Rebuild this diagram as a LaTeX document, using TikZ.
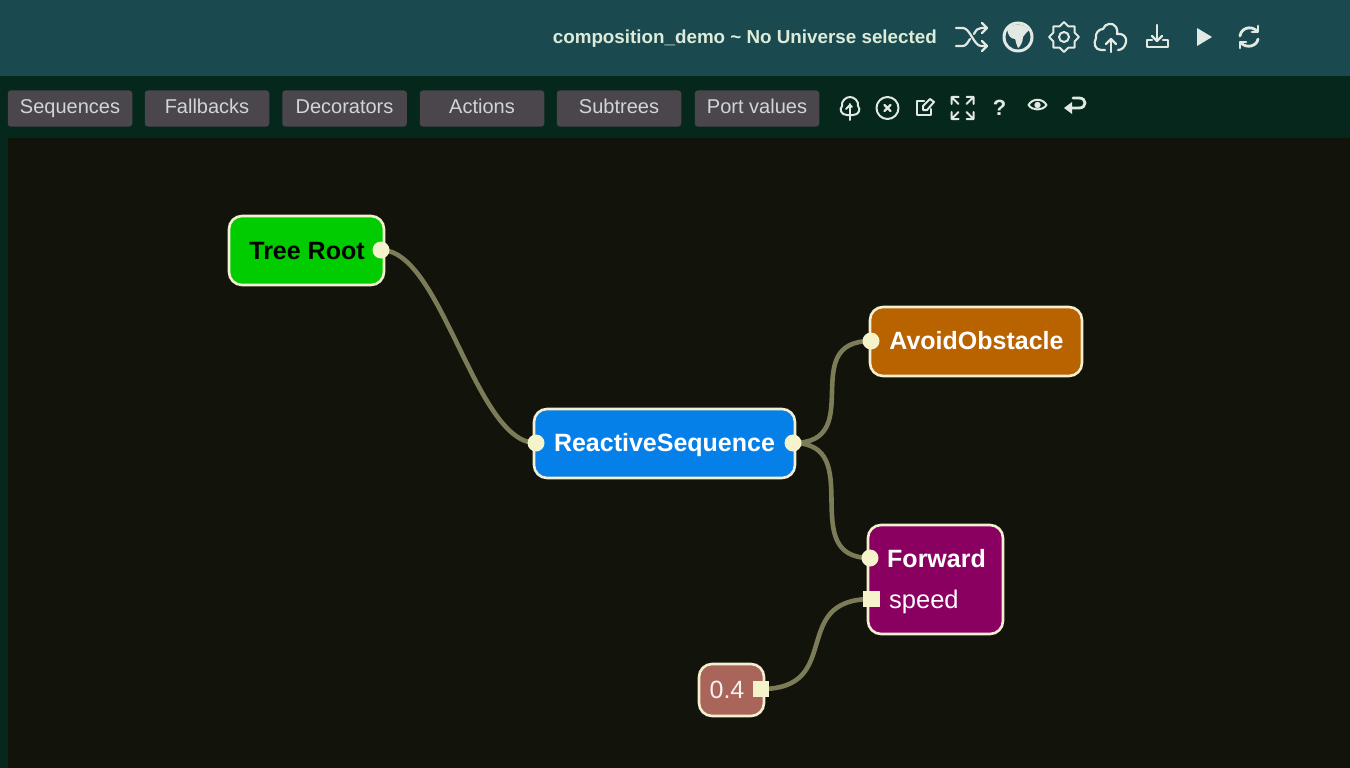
\documentclass[tikz,border=0pt]{standalone}
\usepackage{fontspec}
\setmainfont{Liberation Sans}
\definecolor{headbg}{HTML}{1A4A50}
\definecolor{barbg}{HTML}{06281C}
\definecolor{canvasbg}{HTML}{12130A}
\definecolor{btnbg}{HTML}{4A464C}
\definecolor{btntx}{HTML}{D2D4DC}
\definecolor{headtx}{HTML}{DDEBD8}
\definecolor{icn}{HTML}{E2E8E2}
\definecolor{edgec}{HTML}{7C7D58}
\definecolor{cream}{HTML}{F5F3CC}
\definecolor{edgeline}{HTML}{F3EFD0}
\definecolor{rootc}{HTML}{00CC00}
\definecolor{seqc}{HTML}{0580E8}
\definecolor{avoidc}{HTML}{B86200}
\definecolor{fwdc}{HTML}{8A0060}
\definecolor{valc}{HTML}{A9655A}
\pgfdeclarelayer{front}
\pgfsetlayers{main,front}
\tikzset{
 box/.style={draw=edgeline,line width=2.6pt,rounded corners=13pt,minimum height=#1,inner sep=0pt},
 btn/.style={fill=btnbg,rounded corners=3pt,minimum width=124.5pt,minimum height=36pt,inner sep=0pt,text=btntx,text height=14.5pt,text depth=4pt,font=\fontsize{20}{20}\selectfont},
 btxt/.style={inner sep=0pt,anchor=base,font=\bfseries\fontsize{25}{25}\selectfont},
 circport/.style={circle,fill=cream,minimum size=17pt,inner sep=0pt},
 sqport/.style={rectangle,fill=cream,minimum size=16.5pt,inner sep=0pt},
 conn/.style={draw=edgec,line width=4.6pt},
 icon/.style={draw=icn,line width=2.2pt,line cap=round,line join=round},
 iconthin/.style={draw=icn,line width=2pt,line cap=round,line join=round},
}
\begin{document}
\begin{tikzpicture}[x=1pt,y=-1pt]
\useasboundingbox (0,0) rectangle (1350,768);
\fill[barbg] (0,0) rectangle (1350,768);
\fill[headbg] (0,0) rectangle (1350,76);
\fill[canvasbg] (8,138) rectangle (1350,768);
\node[anchor=base east,inner sep=0pt,text=headtx,font=\bfseries\fontsize{18.8}{19}\selectfont] (title) at (937,44) {composition\_demo \textasciitilde{} No Universe selected};
% toolbar
\node[btn] (b1) at (70,108.5) {Sequences};
\node[btn] (b2) at (207,108.5) {Fallbacks};
\node[btn] (b3) at (344.5,108.5) {Decorators};
\node[btn] (b4) at (482,108.5) {Actions};
\node[btn] (b5) at (619,108.5) {Subtrees};
\node[btn] (b6) at (757,108.5) {Port values};
% nodes
\node[box=69pt,fill=rootc,minimum width=155pt] (root) at (306.5,250.5) {};
\node[box=69pt,fill=seqc,minimum width=261pt] (seq) at (664.5,443.5) {};
\node[box=69pt,fill=avoidc,minimum width=212pt] (avoid) at (976,341.5) {};
\node[box=109pt,fill=fwdc,minimum width=135pt] (fwd) at (935.5,579.5) {};
\node[box=52pt,fill=valc,minimum width=65pt] (val) at (731.5,690) {};
\node[btxt,text=black] (troot) at (307,259) {Tree Root};
\node[btxt,text=white] (tseq) at (664.5,451) {ReactiveSequence};
\node[btxt,text=white] (tavoid) at (976.5,349) {AvoidObstacle};
\node[btxt,text=white,anchor=base west] (tfwd) at (887,567) {Forward};
\node[inner sep=0pt,anchor=base west,text=white,font=\fontsize{25.5}{25}\selectfont] (tspeed) at (889,608) {speed};
\node[inner sep=0pt,anchor=base,text=white!90!valc,font=\fontsize{25}{25}\selectfont] (tval) at (727,698) {0.4};
% ports
\begin{pgfonlayer}{front}
\node[circport] (p1) at (381,250) {};
\node[circport] (p2) at (536,443) {};
\node[circport] (p3) at (793,443) {};
\node[circport] (p4) at (871,341) {};
\node[circport] (p5) at (870,558) {};
\node[sqport] (p6) at (871.5,599) {};
\node[sqport] (p7) at (761,689) {};
\end{pgfonlayer}
% connectors
\draw[conn] (p1.center) .. controls (442,250) and (475,443) .. (p2.center);
\draw[conn] (p3.center) .. controls (868,443) and (796,341) .. (p4.center);
\draw[conn] (p3.center) .. controls (868,443) and (795,558) .. (p5.center);
\draw[conn] (p7.center) .. controls (845,689) and (788,599) .. (p6.center);
% header icons
\begin{scope}[shift={(972,37)}]
\draw[icon] (-16,-9) -- (-9,-9) .. controls (-2,-9) and (2,9) .. (9,9) -- (15,9);
\draw[icon] (-16,9) -- (-9,9) .. controls (-6,9) and (-4,5) .. (-2,2);
\draw[icon] (2,-3) .. controls (4,-7) and (6,-9) .. (9,-9) -- (15,-9);
\draw[icon] (10,-14) -- (15,-9) -- (10,-4);
\draw[icon] (10,4) -- (15,9) -- (10,14);
\end{scope}
\begin{scope}[shift={(1018,37)}]
\fill[icn] (0,0) circle (15.5pt);
\fill[headbg] (0,0) circle (12.5pt);
\fill[icn] (-11,-8) .. controls (-5,-14) and (6,-14) .. (11,-7) .. controls (9,-4) and (6,-3) .. (5,0) .. controls (5,5) and (2,10) .. (0,11) .. controls (-2,8) and (-2,4) .. (-3,2) .. controls (-7,2) and (-10,-1) .. (-11,-8) -- cycle;
\end{scope}
\begin{scope}[shift={(1064,37)}]
\draw[iconthin] (0,0) circle (5pt);
\draw[iconthin] (0,-15) \foreach \a in {22.5,45,...,360}{ -- ({sin(\a)*(mod(\a,45)==0 ? 15 : 11.5)},{-cos(\a)*(mod(\a,45)==0 ? 15 : 11.5)})} -- cycle;
\end{scope}
\begin{scope}[shift={(1110,37)}]
\draw[icon] (-5,13) -- (-9,13) .. controls (-15,13) and (-17,6) .. (-14,1) .. controls (-15,-4) and (-11,-8) .. (-7,-8) .. controls (-5,-14) and (3,-15) .. (6,-10) .. controls (8,-6) and (7,-4) .. (7,-3) .. controls (13,-4) and (17,0) .. (16,5) .. controls (15,10) and (12,13) .. (8,13);
\draw[icon] (1,15) -- (1,2);
\draw[icon] (-4,7) -- (1,2) -- (6,7);
\end{scope}
\begin{scope}[shift={(1157,37)}]
\draw[icon] (-5,3) -- (-10,3) -- (-10,10) -- (11,10) -- (11,3) -- (6,3);
\draw[icon] (0,-12) -- (0,4);
\draw[icon] (-5,-1) -- (0,4) -- (5,-1);
\end{scope}
\fill[icn] (1197,28) -- (1212,37) -- (1197,46) -- cycle;
\begin{scope}[shift={(1249,37)}]
\draw[icon,line width=2.8pt] (-9,-1) .. controls (-8,-9) and (2,-12) .. (8,-6);
\draw[icon,line width=2.8pt] (9,-11) -- (9,-5) -- (3,-5);
\draw[icon,line width=2.8pt] (9,2) .. controls (8,9) and (-2,12) .. (-8,6);
\draw[icon,line width=2.8pt] (-9,11) -- (-9,5) -- (-3,5);
\end{scope}
% toolbar icons
\begin{scope}[shift={(850,107)}]
\draw[iconthin] (-3,8) .. controls (-9,8) and (-11,2) .. (-8,-1) .. controls (-9,-6) and (-4,-10) .. (0,-10) .. controls (4,-10) and (9,-6) .. (8,-1) .. controls (11,2) and (9,8) .. (3,8) -- cycle;
\draw[iconthin] (0,13) -- (0,-3);
\draw[iconthin] (-4,2) -- (0,-2) -- (2,0);
\end{scope}
\begin{scope}[shift={(887.5,108)}]
\draw[iconthin] (0,0) circle (11pt);
\draw[iconthin,line width=2.4pt] (-3,-3) -- (3,3) (-3,3) -- (3,-3);
\end{scope}
\begin{scope}[shift={(924,107)}]
\draw[iconthin] (0,-6) -- (-7,-6) -- (-7,8) -- (7,8) -- (7,2);
\draw[iconthin] (-1,3) -- (-1,-1) -- (6,-8) -- (10,-5) -- (3,3) -- cycle;
\end{scope}
\begin{scope}[shift={(962.5,108)}]
\draw[iconthin] (-11,-4) -- (-11,-11) -- (-4,-11) (-11,-11) -- (-4,-4);
\draw[iconthin] (11,-4) -- (11,-11) -- (4,-11) (11,-11) -- (4,-4);
\draw[iconthin] (-11,4) -- (-11,11) -- (-4,11) (-11,11) -- (-4,4);
\draw[iconthin] (11,4) -- (11,11) -- (4,11) (11,11) -- (4,4);
\end{scope}
\node[inner sep=0pt,text=icn,font=\bfseries\fontsize{22}{22}\selectfont] (qm) at (999.5,108) {?};
\begin{scope}[shift={(1037.5,105)}]
\draw[iconthin] (-9,0) .. controls (-5,-7) and (5,-7) .. (9,0) .. controls (5,6) and (-5,6) .. (-9,0) -- cycle;
\fill[icn] (0,0) circle (3.2pt);
\end{scope}
\begin{scope}[shift={(1075,105)}]
\draw[icon,line width=2.8pt] (-7,3) -- (4,3) .. controls (12,3) and (12,-7) .. (4,-7) -- (-2,-7);
\fill[icn] (-11,3) -- (-3,-3) -- (-3,9) -- cycle;
\end{scope}
\end{tikzpicture}
\end{document}
